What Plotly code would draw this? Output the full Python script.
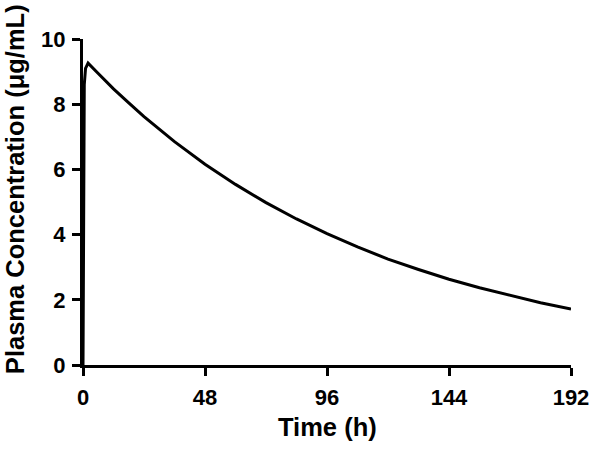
import plotly.graph_objects as go

time_h = [0, 0.5, 1, 2, 6, 12, 18, 24, 36, 48, 60, 72, 84, 96, 108, 120, 132, 144, 156, 168, 180, 192]
conc = [0, 8.6, 9.1, 9.26, 8.94, 8.47, 8.04, 7.62, 6.85, 6.16, 5.54, 4.98, 4.48, 4.03, 3.62, 3.25, 2.93, 2.63, 2.37, 2.13, 1.91, 1.72]
x_ticks = [0, 48, 96, 144, 192]
y_ticks = [0, 2, 4, 6, 8, 10]
x_title = "Time (h)"
y_title = "Plasma Concentration (μg/mL)"

FONT = "Liberation Sans, Arial, sans-serif"
title_font = dict(family=FONT, size=25.5, color="black", weight="bold")

fig = go.Figure()
fig.add_trace(go.Scatter(x=time_h, y=conc, mode="lines",
                         line=dict(color="black", width=3), showlegend=False,
                         cliponaxis=False))

fig.update_layout(
    width=601, height=452,
    margin=dict(l=83, r=30, t=39, b=87, autoexpand=False),
    paper_bgcolor="white", plot_bgcolor="white",
    xaxis=dict(range=[0, 192], tickvals=x_ticks, ticktext=[str(v) for v in x_ticks],
               showgrid=False, zeroline=False, showline=True, linecolor="black", linewidth=3,
               ticks="outside", ticklen=8, tickwidth=3, tickcolor="black",
               tickfont=dict(family=FONT, size=22, color="black", weight="bold"),
               ticklabelstandoff=3, automargin=False),
    yaxis=dict(range=[0, 10], tickvals=y_ticks, ticktext=[str(v) for v in y_ticks],
               showgrid=False, zeroline=False, showline=True, linecolor="black", linewidth=3,
               ticks="outside", ticklen=8, tickwidth=3, tickcolor="black",
               tickfont=dict(family=FONT, size=22, color="black", weight="bold"),
               ticklabelstandoff=2, automargin=False),
    annotations=[
        dict(text=x_title, xref="paper", yref="paper", x=0.5, y=-0.19,
             xanchor="center", yanchor="middle", showarrow=False, font=title_font),
        dict(text=y_title, xref="paper", yref="paper", x=-0.139, y=0.54,
             xanchor="center", yanchor="middle", textangle=-90, showarrow=False, font=title_font),
    ],
)

fig.write_html("out.html", config={"displayModeBar": False},
               post_script="document.body.style.margin='0';")
